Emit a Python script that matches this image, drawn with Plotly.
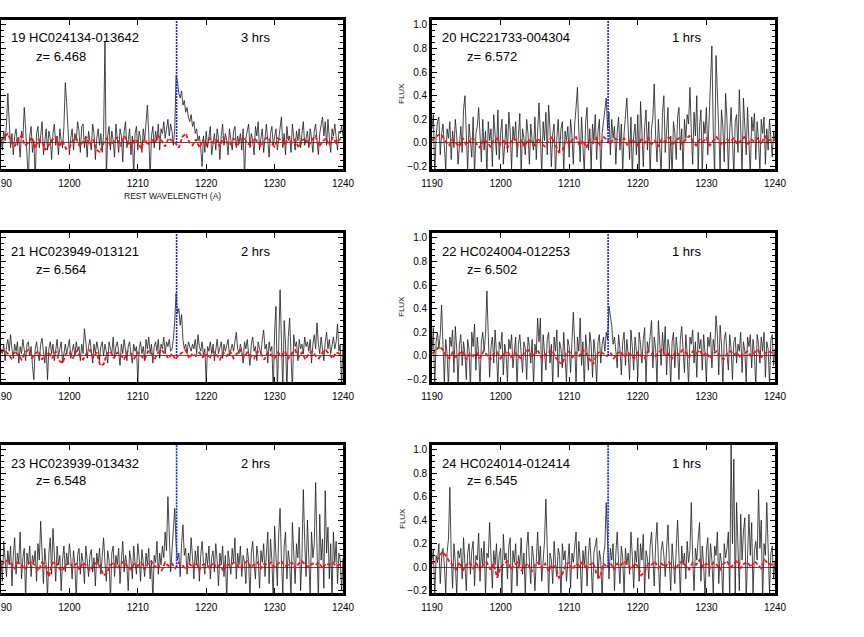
import numpy as np
import plotly.graph_objects as go
from plotly.subplots import make_subplots

# rest wavelength grids (A)
wave = np.round(np.arange(251) * 0.2 + 1190.0, 2)
wave_err = np.arange(101) * 0.5 + 1190.0
LYA = 1215.67

obj_num = [19, 20, 21, 22, 23, 24]
obj_name = ["HC024134-013642", "HC221733-004304", "HC023949-013121",
            "HC024004-012253", "HC023939-013432", "HC024014-012414"]
redshift = ["6.468", "6.572", "6.564", "6.502", "6.548", "6.545"]
exp_hrs = [3, 1, 2, 1, 2, 1]

flux19 = [0.04, -0.06, 0.10, 0.02, 0.15, 0.42, 0.18, -0.04, 0.08, -0.10, 0.06, 0.12, -0.02, 0.05, -0.12, 0.10, 0.04, 0.30, 0.12, -0.05, -0.32, 0.06, 0.14, -0.08, 0.02,
          -0.30, 0.08, 0.14, -0.04, 0.06, 0.18, -0.10, 0.02, 0.12, -0.06, 0.10, 0.04, -0.14, 0.08, 0.16, -0.02, 0.06, -0.10, 0.12, 0.02, -0.04, 0.14, 0.51, 0.34, 0.06,
          -0.10, 0.04, 0.12, -0.06, 0.08, 0.02, 0.18, 0.10, -0.08, 0.14, 0.16, -0.04, 0.06, -0.12, 0.10, 0.02, -0.06, 0.16, 0.08, -0.14, 0.04, 0.12, -0.02, 0.08, -0.08,
          0.08, 0.86, -0.30, 0.06, 0.14, -0.06, 0.10, 0.02, -0.12, 0.16, 0.04, -0.08, 0.12, 0.06, -0.16, 0.10, 0.18, -0.04, 0.02, 0.12, -0.10, 0.06, -0.28, 0.08, 0.14,
          -0.06, 0.10, 0.04, -0.08, 0.12, 0.02, 0.16, 0.32, 0.08, -0.30, 0.06, 0.14, -0.04, 0.10, 0.02, 0.16, -0.06, 0.12, 0.08, 0.18, 0.04, 0.14, 0.20, 0.06, 0.16,
          0.10, -0.02, 0.12, 0.57, 0.52, 0.42, 0.38, 0.44, 0.32, 0.36, 0.26, 0.30, 0.22, 0.18, 0.24, 0.14, 0.18, 0.08, 0.12, 0.02, 0.06, -0.04, -0.20, 0.06, -0.08,
          0.10, -0.04, 0.06, 0.14, -0.10, 0.02, 0.08, -0.06, 0.12, 0.04, -0.14, 0.06, 0.16, -0.02, 0.08, 0.02, -0.10, 0.12, 0.04, -0.06, 0.10, 0.14, -0.04, 0.06, 0.00,
          0.08, -0.06, 0.12, -0.30, 0.04, 0.10, 0.16, -0.04, 0.08, 0.02, -0.10, 0.14, 0.06, 0.18, -0.06, 0.04, 0.12, -0.08, 0.06, 0.16, 0.02, -0.12, 0.08, 0.14, -0.02,
          0.06, 0.12, -0.06, 0.04, 0.10, 0.22, -0.04, 0.08, -0.10, 0.14, 0.02, 0.06, -0.08, 0.16, 0.04, -0.06, 0.10, 0.02, 0.12, -0.04, 0.08, 0.18, -0.02, 0.06, 0.10,
          -0.04, 0.12, 0.04, -0.08, 0.10, 0.16, 0.02, -0.10, 0.08, 0.14, 0.22, 0.06, 0.18, -0.02, 0.20, 0.04, -0.08, 0.12, 0.06, 0.16, 0.02, -0.06, 0.10, 0.08, 0.14,
          0.06]
flux20 = [0.12, 0.24, -0.28, 0.06, 0.18, 0.22, -0.10, 0.08, 0.16, -0.06, -0.22, 0.12, 0.04, 0.18, -0.14, 0.10, -0.04, 0.20, 0.06, -0.18, 0.02, 0.14, -0.08, 0.28, 0.40,
          0.10, -0.24, 0.16, 0.02, -0.12, 0.22, -0.28, 0.08, 0.14, 0.30, 0.04, -0.16, 0.20, -0.06, 0.10, -0.26, 0.18, 0.02, 0.12, -0.20, 0.24, 0.06, -0.10, 0.28, -0.14,
          0.08, 0.20, -0.18, 0.04, 0.16, -0.08, 0.26, 0.10, -0.22, 0.14, 0.02, 0.18, -0.12, 0.06, 0.25, -0.26, 0.12, 0.04, -0.10, 0.20, 0.08, -0.18, 0.16, 0.02, -0.06,
          0.22, -0.14, 0.10, 0.34, 0.06, -0.26, 0.18, 0.02, 0.26, -0.10, 0.32, 0.12, -0.20, 0.08, 0.16, -0.28, 0.04, 0.20, -0.08, 0.12, 0.18, -0.24, 0.10, 0.02, 0.14,
          -0.12, 0.20, 0.06, -0.18, 0.16, 0.30, 0.47, 0.10, -0.16, 0.22, 0.04, -0.26, 0.18, 0.30, -0.06, 0.12, -0.22, 0.16, 0.02, 0.24, -0.14, 0.10, 0.20, -0.28, 0.08,
          0.18, 0.30, 0.38, 0.12, 0.26, -0.10, 0.20, 0.04, 0.14, -0.18, 0.10, 0.22, -0.06, 0.16, -0.24, 0.08, 0.20, 0.38, 0.12, -0.14, 0.22, -0.28, 0.06, 0.16, -0.10,
          0.24, -0.26, 0.35, 0.10, -0.20, 0.14, 0.28, -0.06, 0.18, -0.28, 0.12, 0.22, 0.50, 0.06, -0.16, 0.20, 0.02, -0.26, 0.26, 0.40, -0.08, 0.14, 0.30, -0.22, 0.06,
          -0.28, 0.18, 0.08, -0.14, 0.22, 0.30, -0.06, 0.12, -0.26, 0.20, 0.04, 0.24, 0.16, 0.47, 0.10, -0.18, 0.26, 0.06, 0.40, -0.22, 0.14, 0.28, -0.28, 0.18, 0.08,
          0.30, -0.10, 0.22, 0.50, 0.82, 0.10, -0.28, 0.74, 0.36, 0.06, -0.22, 0.28, 0.14, -0.16, 0.42, 0.20, -0.26, 0.10, 0.30, 0.02, -0.28, 0.18, 0.24, -0.08, 0.45,
          0.12, -0.26, 0.38, 0.16, -0.10, 0.30, 0.04, -0.28, 0.22, 0.10, 0.25, -0.14, 0.18, 0.02, -0.24, 0.20, 0.08, 0.22, -0.18, 0.12, -0.06, 0.20, 0.04, -0.12, 0.10,
          0.02]
flux21 = [0.06, 0.02, 0.10, -0.04, 0.08, 0.14, 0.04, 0.18, 0.06, -0.02, 0.10, 0.04, 0.12, -0.06, 0.08, 0.02, 0.14, 0.06, -0.04, 0.10, 0.12, 0.00, 0.08, -0.08, -0.20,
          0.06, 0.12, 0.02, -0.04, 0.10, 0.15, 0.04, -0.06, 0.08, -0.20, 0.06, 0.12, 0.02, 0.10, -0.04, 0.08, 0.14, 0.00, 0.06, 0.12, -0.06, 0.04, 0.10, 0.02, 0.08,
          0.14, -0.02, 0.06, 0.10, 0.00, 0.12, 0.04, 0.08, -0.04, 0.10, 0.02, 0.23, 0.12, -0.02, 0.08, 0.14, 0.04, -0.06, 0.10, 0.02, 0.12, 0.06, -0.04, 0.08, 0.12,
          0.00, 0.10, 0.04, -0.06, 0.12, 0.06, 0.02, 0.16, -0.02, 0.08, 0.12, 0.04, -0.08, 0.10, 0.02, 0.14, 0.06, -0.04, 0.08, 0.12, 0.02, -0.06, 0.10, 0.04, 0.08,
          -0.22, 0.06, 0.12, 0.02, 0.08, -0.04, 0.14, 0.06, 0.16, 0.02, 0.10, -0.06, 0.08, 0.12, 0.04, 0.14, -0.02, 0.10, 0.06, 0.16, 0.02, 0.12, 0.08, 0.14, 0.04,
          0.06, 0.14, 0.30, 0.53, 0.36, 0.40, 0.26, 0.35, 0.14, 0.06, 0.10, 0.02, 0.12, 0.08, 0.04, 0.10, 0.06, 0.14, 0.02, 0.18, 0.08, 0.04, 0.12, 0.00, 0.06,
          -0.22, 0.08, 0.04, 0.12, 0.02, 0.10, -0.04, 0.08, 0.14, 0.02, 0.06, 0.12, -0.02, 0.10, 0.04, 0.08, 0.14, 0.00, 0.06, 0.10, 0.04, 0.12, 0.20, 0.06, 0.02,
          0.10, 0.04, -0.06, 0.12, 0.06, 0.14, 0.02, -0.08, 0.10, 0.16, 0.04, 0.08, -0.04, 0.12, 0.06, 0.02, 0.14, 0.22, 0.06, 0.10, -0.06, 0.12, 0.04, 0.08, -0.30,
          0.20, 0.42, -0.30, 0.08, 0.56, 0.14, -0.30, 0.30, 0.10, -0.30, 0.16, 0.32, 0.04, -0.30, 0.18, 0.08, 0.12, -0.04, 0.14, 0.06, 0.10, 0.02, 0.16, 0.08, 0.12,
          0.04, 0.14, -0.06, 0.10, 0.18, 0.06, 0.28, 0.10, 0.02, 0.16, 0.08, -0.04, 0.12, 0.20, 0.06, 0.14, 0.02, 0.10, 0.16, 0.06, 0.12, 0.27, 0.04, 0.10, -0.25,
          0.10]
flux22 = [0.04, 0.24, -0.26, 0.12, 0.20, 0.06, 0.18, 0.43, 0.10, -0.22, 0.14, 0.02, -0.28, 0.16, 0.08, 0.22, -0.14, 0.25, 0.06, -0.24, 0.10, 0.18, -0.08, 0.12, 0.02,
          -0.20, 0.14, 0.06, -0.28, 0.20, 0.08, 0.27, -0.12, 0.16, 0.02, -0.26, 0.12, 0.20, 0.04, 0.18, 0.55, 0.14, -0.18, 0.08, 0.16, -0.06, 0.22, 0.02, -0.24, 0.12,
          0.06, 0.20, -0.16, 0.10, 0.02, -0.22, 0.14, 0.06, 0.18, -0.10, 0.04, 0.16, -0.28, 0.10, 0.18, 0.02, -0.14, 0.12, 0.06, -0.20, 0.16, 0.08, -0.06, 0.14, -0.26,
          0.10, 0.02, 0.32, 0.12, 0.32, -0.24, 0.18, 0.06, -0.12, 0.14, 0.20, -0.06, 0.10, -0.26, 0.16, 0.04, 0.22, -0.18, 0.12, 0.06, -0.10, 0.20, 0.02, -0.22, 0.14,
          0.08, -0.14, 0.20, 0.37, 0.10, -0.24, 0.16, 0.04, 0.32, -0.08, 0.12, -0.28, 0.18, 0.06, -0.12, 0.20, 0.10, -0.18, 0.14, 0.02, -0.24, 0.12, 0.18, -0.06, 0.10,
          0.16, 0.04, 0.20, 0.14, 0.42, 0.34, 0.26, 0.10, 0.16, 0.04, -0.10, 0.18, 0.06, -0.16, 0.12, 0.20, -0.08, 0.14, 0.02, -0.20, 0.22, 0.08, -0.12, 0.16, 0.04,
          -0.18, 0.20, 0.10, -0.06, 0.14, 0.24, -0.22, 0.12, 0.04, 0.18, 0.30, -0.10, 0.16, 0.06, -0.24, 0.30, 0.12, -0.08, 0.20, 0.02, 0.25, -0.16, 0.14, 0.06, -0.26,
          0.12, 0.20, -0.10, 0.16, 0.04, -0.20, 0.14, 0.25, 0.08, -0.14, 0.18, 0.02, -0.26, 0.16, 0.10, 0.22, -0.06, 0.12, -0.18, 0.20, 0.06, 0.14, -0.12, 0.18, 0.02,
          -0.22, 0.16, 0.08, 0.20, -0.10, 0.14, 0.04, 0.34, 0.18, -0.16, 0.26, 0.10, -0.24, 0.14, 0.20, 0.02, -0.12, 0.18, 0.06, -0.20, 0.12, 0.16, -0.06, 0.10, 0.04,
          0.20, -0.14, 0.12, 0.04, -0.22, 0.16, 0.08, 0.18, -0.10, 0.14, 0.02, -0.26, 0.18, 0.10, -0.06, 0.16, 0.04, 0.20, -0.18, 0.12, 0.06, -0.24, 0.14, 0.18, -0.08,
          0.06]
flux23 = [0.06, -0.12, 0.22, 0.04, -0.08, 0.14, 0.02, 0.18, -0.16, 0.10, 0.25, -0.06, 0.12, 0.04, 0.30, -0.10, 0.08, 0.16, -0.28, 0.12, 0.02, 0.18, -0.08, 0.10, 0.04,
          0.14, -0.12, 0.20, 0.06, 0.39, 0.10, -0.14, 0.16, 0.02, -0.26, 0.12, 0.25, -0.06, 0.33, 0.08, -0.12, 0.18, 0.02, 0.10, -0.20, 0.06, 0.18, -0.04, 0.12, 0.02,
          0.20, 0.08, -0.10, 0.14, 0.02, -0.28, 0.10, 0.16, -0.06, 0.12, 0.04, -0.14, 0.18, 0.06, -0.08, 0.10, 0.15, -0.04, 0.08, -0.16, 0.12, 0.02, 0.16, -0.06, 0.10,
          0.25, 0.04, -0.12, 0.14, 0.06, -0.28, 0.12, 0.18, -0.08, 0.10, 0.02, 0.16, -0.14, 0.06, 0.22, -0.04, 0.10, 0.02, -0.20, 0.14, 0.06, -0.10, 0.18, 0.04, -0.06,
          0.20, 0.08, -0.12, 0.15, 0.04, -0.08, 0.12, 0.02, 0.16, -0.10, 0.06, -0.28, 0.10, 0.04, 0.22, -0.06, 0.12, 0.02, 0.18, 0.08, 0.30, 0.14, 0.60, 0.20, -0.04,
          0.14, 0.30, 0.50, 0.20, 0.06, 0.12, -0.08, 0.20, 0.36, 0.10, 0.16, -0.06, 0.12, 0.04, 0.25, 0.08, -0.10, 0.14, 0.02, 0.18, -0.12, 0.10, 0.22, 0.04, -0.06,
          0.12, 0.02, 0.18, -0.10, 0.08, 0.14, -0.04, 0.20, 0.06, -0.16, 0.12, 0.02, 0.18, -0.08, 0.10, -0.28, 0.14, 0.06, -0.06, 0.16, 0.04, 0.25, -0.10, 0.12, 0.02,
          0.18, -0.08, 0.10, 0.04, -0.14, 0.16, 0.06, -0.28, 0.12, 0.22, 0.02, -0.10, 0.18, 0.08, -0.18, 0.14, 0.04, 0.20, -0.08, 0.12, 0.30, -0.14, 0.24, 0.06, -0.28,
          0.35, 0.10, -0.16, 0.28, 0.50, 0.06, -0.22, 0.18, 0.30, -0.10, 0.14, 0.04, -0.26, 0.38, 0.12, -0.14, 0.20, 0.08, 0.34, -0.20, 0.10, 0.66, 0.22, -0.08, 0.40,
          0.14, -0.24, 0.30, 0.08, 0.20, 0.72, 0.16, -0.28, 0.45, 0.06, 0.24, -0.18, 0.65, 0.12, 0.34, -0.10, 0.20, -0.28, 0.30, 0.04, 0.22, -0.14, 0.12, 0.06, -0.20,
          0.08]
flux24 = [0.06, 0.15, -0.26, 0.10, 0.04, 0.20, -0.14, 0.08, 0.16, 0.02, -0.22, 0.12, 0.24, 0.68, 0.10, -0.18, 0.20, 0.04, -0.24, 0.14, 0.08, 0.16, -0.10, 0.25, 0.02,
          -0.20, 0.12, 0.20, -0.06, 0.14, 0.22, -0.16, 0.10, 0.06, 0.29, -0.12, 0.16, 0.02, 0.22, -0.24, 0.12, 0.08, 0.38, 0.10, -0.18, 0.14, 0.02, 0.20, -0.08, 0.10,
          0.16, -0.22, 0.28, 0.06, 0.12, -0.10, 0.18, 0.25, -0.28, 0.14, 0.04, 0.20, -0.16, 0.10, 0.02, 0.25, -0.06, 0.12, -0.24, 0.16, 0.30, 0.04, -0.14, 0.18, 0.08,
          -0.20, 0.14, 0.30, 0.02, 0.18, -0.12, 0.10, 0.22, 0.58, 0.14, -0.26, 0.12, 0.06, -0.14, 0.22, 0.04, -0.08, 0.16, 0.10, -0.28, 0.20, 0.06, 0.14, -0.12, 0.08,
          0.20, -0.18, 0.12, 0.04, 0.16, 0.30, -0.10, 0.22, 0.06, -0.24, 0.14, 0.02, 0.18, -0.16, 0.10, 0.25, 0.04, -0.26, 0.12, 0.20, 0.25, -0.10, 0.14, 0.06, -0.28,
          0.10, 0.18, 0.55, 0.12, -0.10, 0.16, 0.06, 0.20, -0.20, 0.12, 0.30, 0.04, -0.14, 0.18, 0.08, -0.24, 0.16, 0.02, 0.12, -0.06, 0.30, 0.10, -0.18, 0.14, 0.04,
          0.25, -0.12, 0.20, 0.06, 0.28, -0.22, 0.14, 0.08, -0.10, 0.18, 0.30, 0.02, -0.16, 0.20, 0.38, 0.06, -0.24, 0.14, 0.22, 0.10, -0.08, 0.16, 0.36, 0.04, -0.20,
          0.20, 0.06, -0.14, 0.16, 0.40, 0.10, -0.26, 0.18, 0.02, 0.12, -0.10, 0.22, 0.04, 0.14, 0.55, 0.08, -0.20, 0.16, 0.06, 0.24, 0.38, -0.12, 0.18, 0.02, -0.26,
          0.14, 0.25, -0.08, 0.20, 0.06, -0.22, 0.18, 0.10, 0.30, -0.14, 0.12, 0.04, -0.28, 0.20, 0.08, 0.16, 0.30, -0.26, 1.04, 0.20, 0.92, -0.28, 0.55, 0.12, -0.20,
          0.45, 0.06, 0.30, 0.42, -0.28, 0.18, 0.45, 0.10, 0.38, -0.24, 0.14, 0.22, 0.06, 0.66, 0.16, 0.40, -0.28, 0.20, 0.10, 0.55, 0.04, -0.22, 0.12, 0.18, -0.10,
          0.04]

# red: noise spectra
err19 = [0.02, 0.05, 0.08, 0.01, -0.03, 0.04, 0.06, -0.02, 0.00, 0.05, -0.04, 0.03, 0.01, -0.06, -0.02, 0.03, 0.05, -0.03, 0.02, -0.05,
         -0.04, 0.02, 0.04, -0.03, 0.01, 0.05, -0.02, 0.03, -0.06, -0.08, 0.00, 0.04, -0.02, 0.02, 0.05, -0.03, 0.06, 0.02, -0.04, 0.03,
         0.01, -0.05, 0.04, -0.02, 0.03, 0.00, 0.06, 0.02, -0.03, 0.04, 0.02, 0.00, -0.04, 0.05, 0.08, 0.01, -0.02, 0.03, -0.04, 0.02,
         -0.02, 0.04, 0.00, 0.03, -0.03, 0.05, 0.01, -0.02, 0.04, -0.03, 0.02, 0.05, 0.00, -0.02, 0.04, 0.01, -0.03, 0.03, 0.05, 0.00,
         -0.03, 0.04, 0.02, -0.02, 0.05, 0.00, 0.03, -0.04, 0.02, 0.04, -0.02, 0.03, 0.06, -0.03, 0.01, 0.04, -0.02, 0.05, 0.00, 0.03,
         0.04]
err20 = [0.02, 0.05, 0.07, 0.06, 0.01, -0.02, 0.03, 0.00, -0.03, 0.04, -0.02, 0.02, 0.04, -0.01, -0.04, 0.03, 0.01, -0.03, 0.02, 0.04,
         -0.02, 0.03, -0.04, 0.01, 0.04, -0.02, 0.02, -0.03, 0.03, 0.01, -0.02, 0.04, -0.01, -0.03, 0.02, 0.05, -0.02, -0.08, -0.06, 0.02,
         -0.01, 0.03, 0.05, -0.02, 0.02, -0.04, 0.03, 0.00, 0.04, -0.02, 0.05, 0.03, -0.01, 0.04, 0.03, 0.00, 0.04, -0.02, 0.03, 0.01,
         -0.02, 0.03, 0.00, 0.04, -0.01, 0.02, -0.03, 0.03, 0.01, 0.05, -0.02, 0.02, 0.04, -0.01, 0.03, 0.06, 0.02, -0.02, 0.03, 0.01,
         0.04, -0.02, 0.02, 0.05, 0.00, -0.02, 0.03, 0.01, 0.04, -0.01, 0.02, 0.05, -0.02, 0.03, 0.01, 0.04, -0.01, 0.06, 0.02, 0.03,
         0.02]
err21 = [0.03, 0.05, 0.02, -0.02, 0.04, 0.01, -0.03, 0.03, 0.05, -0.02, 0.02, 0.04, -0.03, 0.01, 0.03, -0.02, 0.04, -0.04, -0.06, 0.02,
         0.03, -0.02, 0.04, 0.00, -0.03, 0.02, 0.05, -0.01, 0.03, -0.08, -0.07, 0.02, 0.04, -0.02, 0.03, 0.01, -0.03, 0.04, 0.02, -0.02,
         0.03, 0.00, -0.03, 0.04, 0.02, -0.02, 0.03, 0.05, 0.01, -0.02, 0.02, -0.03, 0.01, 0.03, 0.05, -0.02, 0.02, 0.00, 0.03, -0.01,
         0.02, -0.02, 0.04, 0.01, -0.03, 0.03, 0.00, 0.04, -0.02, 0.02, 0.05, -0.01, 0.03, 0.00, -0.02, 0.04, 0.02, -0.03, 0.03, 0.01,
         -0.02, 0.03, 0.00, 0.04, -0.02, 0.02, 0.05, -0.01, 0.03, -0.03, 0.02, 0.04, 0.00, -0.02, 0.03, 0.05, 0.01, -0.02, 0.03, 0.02,
         0.01]
err22 = [0.02, 0.04, 0.08, 0.06, 0.01, -0.02, 0.03, -0.01, 0.02, 0.04, -0.03, 0.02, 0.00, 0.03, -0.02, 0.04, 0.01, -0.03, 0.02, 0.03,
         -0.02, 0.02, 0.04, -0.01, 0.03, 0.00, -0.02, 0.03, 0.05, -0.01, 0.02, 0.04, -0.02, 0.01, 0.03, 0.05, -0.01, -0.05, -0.07, 0.02,
         0.04, -0.01, 0.03, 0.00, 0.05, 0.02, -0.03, -0.07, 0.01, 0.04, 0.02, 0.00, 0.03, -0.02, 0.02, 0.04, -0.01, 0.03, 0.01, -0.02,
         0.03, 0.00, -0.02, 0.04, 0.02, -0.01, 0.03, 0.05, 0.00, 0.02, -0.02, 0.04, 0.01, 0.05, 0.03, -0.01, 0.04, 0.02, 0.05, 0.00,
         0.03, -0.02, 0.02, 0.04, 0.00, -0.03, 0.02, 0.04, 0.01, 0.03, -0.02, 0.02, 0.04, 0.00, 0.03, 0.05, -0.01, 0.02, 0.04, 0.03,
         0.02]
err23 = [0.02, 0.04, 0.06, 0.03, -0.01, 0.04, 0.02, -0.02, 0.03, 0.05, 0.01, -0.03, 0.04, 0.02, -0.08, 0.03, 0.05, -0.01, -0.03, 0.02,
         0.04, 0.00, 0.03, -0.02, 0.04, 0.01, -0.03, 0.02, 0.04, 0.00, -0.07, -0.05, 0.02, 0.04, -0.01, 0.03, 0.05, 0.00, -0.02, 0.03,
         0.01, 0.04, -0.02, 0.03, 0.05, 0.00, 0.02, -0.03, 0.04, 0.01, 0.03, -0.01, 0.04, 0.02, -0.02, 0.03, 0.00, 0.04, -0.02, 0.02,
         0.03, -0.01, 0.04, 0.00, 0.02, -0.03, 0.03, 0.01, 0.04, 0.02, -0.01, 0.03, 0.05, 0.00, 0.02, 0.04, -0.01, 0.03, 0.02, 0.04,
         0.00, 0.03, 0.05, 0.01, 0.02, 0.04, -0.01, 0.03, 0.05, 0.02, 0.00, 0.03, 0.02, 0.04, -0.01, 0.03, 0.02, 0.04, 0.01, 0.02,
         0.03]
err24 = [0.03, 0.05, 0.08, 0.13, 0.10, 0.05, 0.02, -0.02, 0.04, -0.03, 0.02, 0.04, -0.01, 0.03, -0.03, 0.02, 0.04, -0.02, 0.03, -0.09,
         0.00, 0.03, 0.05, -0.02, 0.02, 0.04, -0.03, 0.01, 0.03, -0.04, 0.02, 0.04, -0.01, 0.03, -0.03, 0.02, 0.00, -0.09, -0.06, 0.02,
         0.04, -0.02, 0.03, 0.01, 0.05, -0.02, 0.02, 0.04, -0.06, -0.09, 0.03, 0.00, 0.04, -0.02, 0.03, 0.01, 0.05, 0.02, -0.02, 0.03,
         0.01, -0.07, -0.04, 0.03, 0.02, 0.05, -0.01, 0.03, 0.00, 0.04, 0.02, -0.02, 0.03, 0.05, 0.01, -0.02, 0.04, 0.02, 0.06, 0.00,
         0.03, -0.01, 0.04, 0.02, -0.02, 0.03, 0.05, 0.00, 0.02, 0.06, -0.01, 0.03, 0.04, 0.00, 0.05, 0.02, -0.01, 0.06, 0.03, 0.02,
         0.04]

fluxes = [flux19, flux20, flux21, flux22, flux23, flux24]
errs = [err19, err20, err21, err22, err23, err24]

W, H = 864, 637
YMIN, YMAX = -0.22, 1.04
# panel frames in pixels: left, right, top, bottom
col_px = [(1, 343), (432, 775)]
row_px = [(20, 169), (233, 382), (445, 593)]

fig = make_subplots(rows=3, cols=2)
font = "Liberation Sans, Arial, sans-serif"
ann = []

for k in range(6):
    r, c = k // 2, k % 2
    n = k + 1
    sfx = "" if n == 1 else str(n)
    fig.add_trace(go.Scatter(x=wave, y=fluxes[k], mode="lines",
                             line=dict(color="#1a1a1a", width=0.8)), row=r + 1, col=c + 1)
    fig.add_trace(go.Scatter(x=wave_err, y=errs[k], mode="lines",
                             line=dict(color="#ff1010", width=1.8, dash="4px,2px")), row=r + 1, col=c + 1)
    fig.add_trace(go.Scatter(x=[LYA, LYA], y=[0, YMAX], mode="lines",
                             line=dict(color="#1020ff", width=1.6, dash="2px,1px")), row=r + 1, col=c + 1)
    x0, x1 = col_px[c]
    y0, y1 = row_px[r]
    axx = dict(domain=[x0 / W, x1 / W], range=[1190, 1240], dtick=10, tick0=1190,
               showline=True, mirror="allticks", linewidth=2.8, linecolor="black",
               ticks="inside", ticklen=5, tickwidth=1.2, tickcolor="black",
               showgrid=False, zeroline=False, ticklabelstandoff=3, automargin=False,
               ticklabeloverflow="allow",
               tickfont=dict(family=font, size=10, color="black"), anchor="y" + sfx)
    axy = dict(domain=[1 - y1 / H, 1 - y0 / H], range=[YMIN, YMAX], dtick=0.2, tick0=0,
               tickformat=".1f", showline=True, mirror="allticks", linewidth=2.8, linecolor="black",
               ticks="inside", ticklen=5, tickwidth=1.2, tickcolor="black",
               minor=dict(ticks="inside", ticklen=3, dtick=0.05, tickcolor="black"),
               showgrid=False, zeroline=True, zerolinecolor="#555", zerolinewidth=1,
               showticklabels=(c == 1), automargin=False,
               tickfont=dict(family=font, size=10, color="black"), anchor="x" + sfx)
    fig.layout["xaxis" + sfx].update(axx)
    fig.layout["yaxis" + sfx].update(axy)

    ann.append(dict(x=(x0 + 8) / W, y=1 - (y0 + 18) / H, xanchor="left", yanchor="middle",
                    text="%d %s" % (obj_num[k], obj_name[k])))
    ann.append(dict(x=(x0 + 33) / W, y=1 - (y0 + 36) / H, xanchor="left", yanchor="middle",
                    text="z= %s" % redshift[k]))
    ann.append(dict(x=(x0 + 254) / W, y=1 - (y0 + 18) / H, xanchor="center", yanchor="middle",
                    text="%d hrs" % exp_hrs[k]))
    if c == 1:
        ann.append(dict(x=402 / W, y=1 - (y0 + 74) / H, xanchor="center", yanchor="middle",
                        text="FLUX", textangle=-90, font=dict(family=font, size=8, color="#111")))

ann.append(dict(x=172 / W, y=1 - 196 / H, xanchor="center", yanchor="middle",
                text="REST WAVELENGTH (A)", font=dict(family=font, size=8.5, color="#111")))

for a in ann:
    a.update(xref="paper", yref="paper", showarrow=False)
    a.setdefault("font", dict(family=font, size=13, color="black"))

fig.update_layout(width=W, height=H, margin=dict(l=0, r=0, t=0, b=0, autoexpand=False),
                  paper_bgcolor="white", plot_bgcolor="white", showlegend=False,
                  annotations=ann)

# drop the page's default body margin so the figure sits at the window origin
fig.write_html("out.html", config={"displayModeBar": False},
               post_script="document.body.style.margin='0px';document.body.style.overflow='hidden';")
